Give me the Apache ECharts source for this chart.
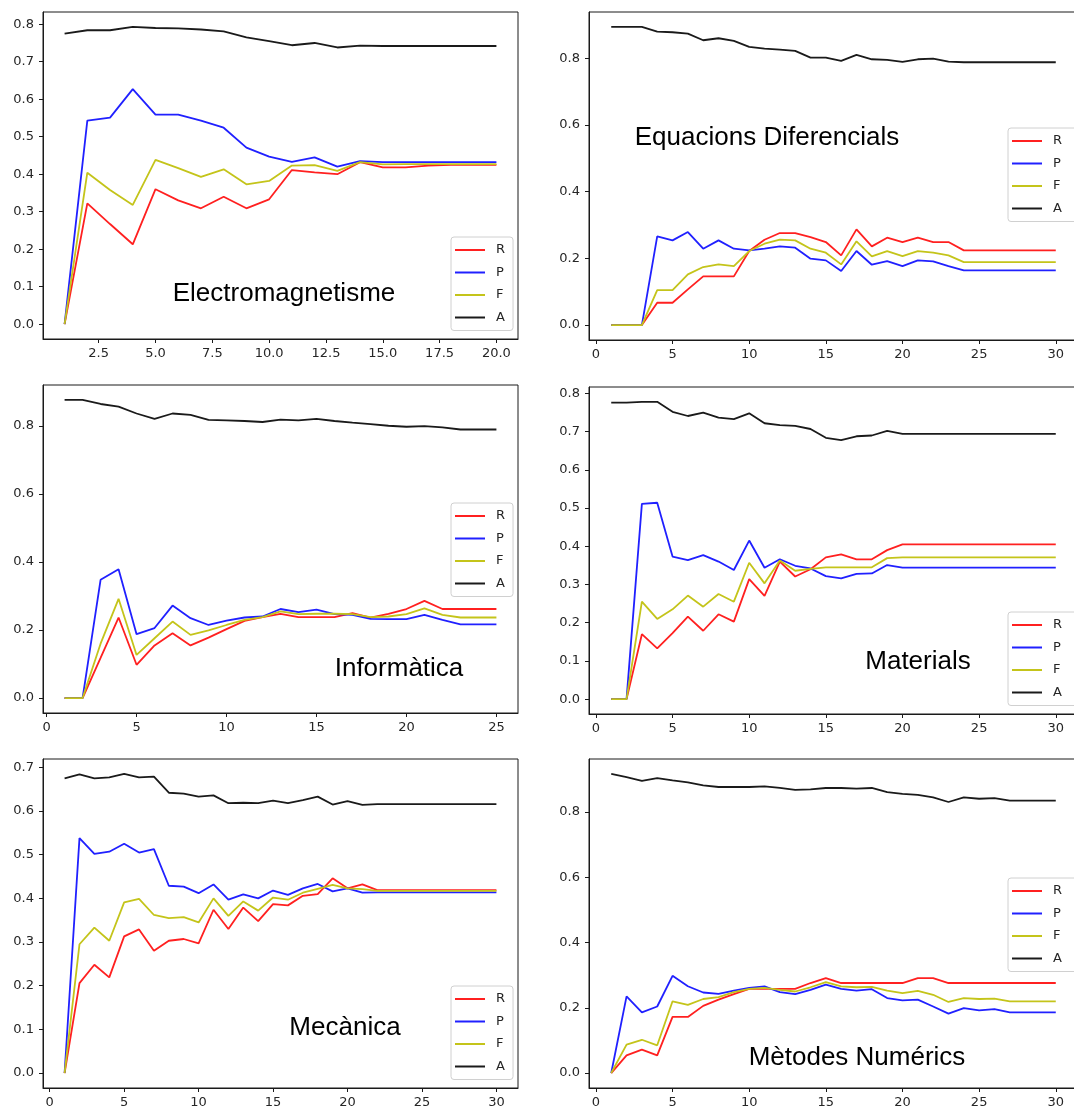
<!DOCTYPE html>
<html><head><meta charset="utf-8">
<script src="https://cdn.jsdelivr.net/npm/echarts@6/dist/echarts.min.js"></script>
<style>html,body{margin:0;padding:0;background:#fff}#c{width:1074px;height:1113px}</style>
</head><body><div id="c"></div><script>
const seriesNames = ['R', 'P', 'F', 'A'];
const seriesColors = ['#ff2020', '#2020ff', '#c4c41a', '#1a1a1a'];
const panelTitles = ['Electromagnetisme', 'Equacions Diferencials', 'Informàtica', 'Materials', 'Mecànica', 'Mètodes Numérics'];

// Tick labels
const yTicksTenth = [0, 0.1, 0.2, 0.3, 0.4, 0.5, 0.6, 0.7, 0.8];
const yTicksFifth = [0, 0.2, 0.4, 0.6, 0.8];
const yTicksMec = [0, 0.1, 0.2, 0.3, 0.4, 0.5, 0.6, 0.7];
const xTicksEm = [2.5, 5, 7.5, 10, 12.5, 15, 17.5, 20];
const xTicks25 = [0, 5, 10, 15, 20, 25];
const xTicks30 = [0, 5, 10, 15, 20, 25, 30];

// Electromagnetisme (x = 1..20)
const em_R = [0, 0.322, 0.267, 0.213, 0.360, 0.330, 0.309, 0.340, 0.309, 0.333, 0.411, 0.405, 0.400, 0.432, 0.418, 0.418, 0.423, 0.425, 0.425, 0.425];
const em_P = [0, 0.543, 0.551, 0.627, 0.559, 0.559, 0.543, 0.524, 0.471, 0.447, 0.433, 0.445, 0.420, 0.435, 0.432, 0.432, 0.432, 0.432, 0.432, 0.432];
const em_F = [0, 0.404, 0.358, 0.318, 0.438, 0.416, 0.393, 0.413, 0.373, 0.382, 0.423, 0.424, 0.409, 0.432, 0.426, 0.427, 0.427, 0.427, 0.427, 0.427];
const em_A = [0.775, 0.784, 0.784, 0.793, 0.790, 0.789, 0.786, 0.781, 0.765, 0.755, 0.744, 0.750, 0.738, 0.743, 0.742, 0.742, 0.742, 0.742, 0.742, 0.742];

// Equacions Diferencials (x = 1..30)
const ed_R = [0, 0, 0, 0.067, 0.067, 0.107, 0.146, 0.146, 0.146, 0.222, 0.256, 0.276, 0.276, 0.264, 0.249, 0.209, 0.287, 0.236, 0.262, 0.249, 0.262, 0.249, 0.249, 0.224, 0.224, 0.224, 0.224, 0.224, 0.224, 0.224];
const ed_P = [0, 0, 0, 0.266, 0.254, 0.279, 0.229, 0.254, 0.229, 0.224, 0.229, 0.236, 0.232, 0.199, 0.194, 0.162, 0.222, 0.181, 0.192, 0.177, 0.194, 0.191, 0.177, 0.164, 0.164, 0.164, 0.164, 0.164, 0.164, 0.164];
const ed_F = [0, 0, 0, 0.105, 0.105, 0.152, 0.174, 0.182, 0.177, 0.222, 0.244, 0.256, 0.254, 0.229, 0.217, 0.182, 0.251, 0.206, 0.222, 0.207, 0.222, 0.217, 0.209, 0.189, 0.189, 0.189, 0.189, 0.189, 0.189, 0.189];
const ed_A = [0.894, 0.894, 0.894, 0.880, 0.878, 0.874, 0.854, 0.860, 0.852, 0.834, 0.829, 0.826, 0.822, 0.802, 0.802, 0.792, 0.810, 0.797, 0.795, 0.789, 0.797, 0.799, 0.790, 0.788, 0.788, 0.788, 0.788, 0.788, 0.788, 0.788];

// Informàtica (x = 1..25)
const in_R = [0, 0, 0.118, 0.237, 0.098, 0.155, 0.191, 0.155, 0.178, 0.203, 0.227, 0.238, 0.248, 0.238, 0.238, 0.238, 0.250, 0.237, 0.248, 0.262, 0.286, 0.262, 0.262, 0.262, 0.262];
const in_P = [0, 0, 0.348, 0.379, 0.188, 0.206, 0.272, 0.235, 0.215, 0.228, 0.237, 0.240, 0.262, 0.253, 0.260, 0.247, 0.245, 0.233, 0.232, 0.232, 0.245, 0.230, 0.217, 0.217, 0.217];
const in_F = [0, 0, 0.160, 0.292, 0.127, 0.176, 0.225, 0.186, 0.199, 0.215, 0.230, 0.238, 0.255, 0.247, 0.248, 0.248, 0.247, 0.238, 0.240, 0.247, 0.264, 0.245, 0.237, 0.237, 0.237];
const in_A = [0.877, 0.877, 0.865, 0.857, 0.837, 0.821, 0.837, 0.833, 0.818, 0.817, 0.815, 0.812, 0.819, 0.817, 0.821, 0.815, 0.810, 0.806, 0.801, 0.798, 0.800, 0.796, 0.790, 0.790, 0.790];

// Materials (x = 1..30)
const ma_R = [0, 0, 0.170, 0.133, 0.173, 0.216, 0.179, 0.222, 0.203, 0.314, 0.270, 0.360, 0.321, 0.340, 0.371, 0.379, 0.366, 0.366, 0.390, 0.405, 0.405, 0.405, 0.405, 0.405, 0.405, 0.405, 0.405, 0.405, 0.405, 0.405];
const ma_P = [0, 0, 0.511, 0.514, 0.373, 0.364, 0.377, 0.360, 0.338, 0.415, 0.344, 0.366, 0.349, 0.342, 0.322, 0.316, 0.328, 0.329, 0.351, 0.344, 0.344, 0.344, 0.344, 0.344, 0.344, 0.344, 0.344, 0.344, 0.344, 0.344];
const ma_F = [0, 0, 0.255, 0.210, 0.235, 0.271, 0.242, 0.275, 0.255, 0.357, 0.303, 0.363, 0.336, 0.341, 0.345, 0.345, 0.345, 0.345, 0.369, 0.371, 0.371, 0.371, 0.371, 0.371, 0.371, 0.371, 0.371, 0.371, 0.371, 0.371];
const ma_A = [0.776, 0.776, 0.778, 0.778, 0.752, 0.741, 0.750, 0.737, 0.733, 0.748, 0.722, 0.717, 0.715, 0.707, 0.684, 0.678, 0.688, 0.690, 0.702, 0.694, 0.694, 0.694, 0.694, 0.694, 0.694, 0.694, 0.694, 0.694, 0.694, 0.694];

// Mecànica (x = 1..30)
const me_R = [0, 0.206, 0.248, 0.219, 0.313, 0.329, 0.280, 0.303, 0.307, 0.297, 0.374, 0.330, 0.379, 0.348, 0.387, 0.384, 0.406, 0.410, 0.446, 0.423, 0.432, 0.419, 0.419, 0.419, 0.419, 0.419, 0.419, 0.419, 0.419, 0.419];
const me_P = [0, 0.538, 0.502, 0.507, 0.525, 0.505, 0.513, 0.429, 0.427, 0.412, 0.432, 0.397, 0.409, 0.400, 0.418, 0.408, 0.423, 0.433, 0.416, 0.423, 0.413, 0.414, 0.414, 0.414, 0.414, 0.414, 0.414, 0.414, 0.414, 0.414];
const me_F = [0, 0.295, 0.333, 0.303, 0.391, 0.399, 0.362, 0.355, 0.357, 0.345, 0.400, 0.360, 0.393, 0.372, 0.402, 0.397, 0.413, 0.422, 0.431, 0.423, 0.421, 0.417, 0.417, 0.417, 0.417, 0.417, 0.417, 0.417, 0.417, 0.417];
const me_A = [0.675, 0.684, 0.675, 0.677, 0.685, 0.677, 0.679, 0.642, 0.640, 0.633, 0.636, 0.618, 0.619, 0.618, 0.624, 0.618, 0.625, 0.633, 0.615, 0.623, 0.614, 0.616, 0.616, 0.616, 0.616, 0.616, 0.616, 0.616, 0.616, 0.616];

// Mètodes Numérics (x = 1..30)
const mn_R = [0, 0.054, 0.072, 0.054, 0.172, 0.172, 0.206, 0.225, 0.242, 0.258, 0.258, 0.258, 0.258, 0.276, 0.291, 0.276, 0.276, 0.276, 0.276, 0.276, 0.291, 0.291, 0.276, 0.276, 0.276, 0.276, 0.276, 0.276, 0.276, 0.276];
const mn_P = [0, 0.235, 0.186, 0.204, 0.298, 0.266, 0.247, 0.243, 0.253, 0.261, 0.266, 0.248, 0.242, 0.255, 0.271, 0.258, 0.253, 0.257, 0.230, 0.223, 0.225, 0.204, 0.182, 0.199, 0.192, 0.196, 0.186, 0.186, 0.186, 0.186];
const mn_F = [0, 0.087, 0.102, 0.085, 0.220, 0.209, 0.227, 0.233, 0.248, 0.258, 0.261, 0.255, 0.250, 0.263, 0.279, 0.266, 0.263, 0.264, 0.253, 0.245, 0.252, 0.240, 0.218, 0.230, 0.227, 0.228, 0.220, 0.220, 0.220, 0.220];
const mn_A = [0.917, 0.907, 0.896, 0.904, 0.897, 0.891, 0.882, 0.877, 0.877, 0.877, 0.879, 0.874, 0.868, 0.870, 0.874, 0.874, 0.872, 0.874, 0.861, 0.856, 0.853, 0.845, 0.831, 0.845, 0.841, 0.843, 0.835, 0.835, 0.835, 0.835];

// layout (pixels) per panel
const panels = [
  { data: [em_R, em_P, em_F, em_A], yTicks: yTicksTenth, xTicks: xTicksEm, xDec: 1, grid: { left: 43, top: 12, width: 475, height: 327 }, legend: { left: 451, top: 237, padRight: 8 }, title: { x: 284, y: 294 } },
  { data: [ed_R, ed_P, ed_F, ed_A], yTicks: yTicksFifth, xTicks: xTicks30, xDec: 0, grid: { left: 589, top: 12, width: 489, height: 328 }, legend: { left: 1008, top: 128, padRight: 18 }, title: { x: 767, y: 138 } },
  { data: [in_R, in_P, in_F, in_A], yTicks: yTicksFifth, xTicks: xTicks25, xDec: 0, grid: { left: 43, top: 385, width: 475, height: 328 }, legend: { left: 451, top: 503, padRight: 8 }, title: { x: 399, y: 669 } },
  { data: [ma_R, ma_P, ma_F, ma_A], yTicks: yTicksTenth, xTicks: xTicks30, xDec: 0, grid: { left: 589, top: 387, width: 489, height: 327 }, legend: { left: 1008, top: 612, padRight: 18 }, title: { x: 918, y: 662 } },
  { data: [me_R, me_P, me_F, me_A], yTicks: yTicksMec, xTicks: xTicks30, xDec: 0, grid: { left: 43, top: 759, width: 475, height: 329 }, legend: { left: 451, top: 986, padRight: 8 }, title: { x: 345, y: 1028 } },
  { data: [mn_R, mn_P, mn_F, mn_A], yTicks: yTicksFifth, xTicks: xTicks30, xDec: 0, grid: { left: 589, top: 759, width: 489, height: 329 }, legend: { left: 1008, top: 878, padRight: 18 }, title: { x: 857, y: 1058 } }
];

const tickFont = { fontFamily: 'DejaVu Sans', fontSize: 13, color: '#262626' };
const grid = [], xAxis = [], yAxis = [], series = [], legend = [], graphic = [];

panels.forEach((p, i) => {
  const n = p.data[0].length;
  let lo = Infinity, hi = -Infinity;
  p.data.forEach(arr => arr.forEach(v => { lo = Math.min(lo, v); hi = Math.max(hi, v); }));
  const yr = hi - lo, xr = n - 1;
  grid.push(Object.assign({ show: true, borderColor: '#1a1a1a', borderWidth: 1, backgroundColor: '#fff', outerBoundsMode: 'none', containLabel: false }, p.grid));
  xAxis.push({
    type: 'value', gridIndex: i, min: 1 - 0.05 * xr, max: n + 0.05 * xr,
    axisLine: { show: true, onZero: false, lineStyle: { color: '#1a1a1a', width: 1 } },
    axisTick: { show: true, length: 4, customValues: p.xTicks, lineStyle: { color: '#1a1a1a' } },
    axisLabel: Object.assign({ margin: 8, customValues: p.xTicks, formatter: v => v.toFixed(p.xDec), showMinLabel: true, showMaxLabel: true, hideOverlap: false }, tickFont),
    splitLine: { show: false }
  });
  yAxis.push({
    type: 'value', gridIndex: i, min: lo - 0.05 * yr, max: hi + 0.05 * yr,
    axisLine: { show: true, onZero: false, lineStyle: { color: '#1a1a1a', width: 1 } },
    axisTick: { show: true, length: 4, customValues: p.yTicks, lineStyle: { color: '#1a1a1a' } },
    axisLabel: Object.assign({ margin: 9, customValues: p.yTicks, formatter: v => v.toFixed(1), showMinLabel: true, showMaxLabel: true }, tickFont),
    splitLine: { show: false }
  });
  p.data.forEach((arr, k) => {
    series.push({
      type: 'line', name: seriesNames[k], xAxisIndex: i, yAxisIndex: i,
      data: arr.map((v, j) => [j + 1, v]),
      showSymbol: false, symbol: 'none', silent: true,
      lineStyle: { color: seriesColors[k], width: 1.8 },
      itemStyle: { color: seriesColors[k] },
      z: 2
    });
  });
  legend.push({
    data: seriesNames, orient: 'vertical', left: p.legend.left, top: p.legend.top,
    icon: 'rect', itemWidth: 30, itemHeight: 2, itemGap: 8.5,
    padding: [6, p.legend.padRight, 6, 4], backgroundColor: 'rgba(255,255,255,0.85)',
    borderColor: '#d0d0d0', borderWidth: 1, borderRadius: 3,
    textStyle: { fontFamily: 'DejaVu Sans', fontSize: 13, color: '#262626', lineHeight: 14, padding: [0, 0, 0, 6] },
    selectedMode: false, z: 5
  });
  graphic.push({
    type: 'text', x: p.title.x, y: p.title.y, z: 10,
    style: { text: panelTitles[i], fontFamily: 'Liberation Sans', fontSize: 26, fill: '#000', textAlign: 'center', textVerticalAlign: 'middle' }
  });
});

const chart = echarts.init(document.getElementById('c'), null, { renderer: 'canvas' });
chart.setOption({ animation: false, backgroundColor: '#fff', grid, xAxis, yAxis, series, legend, graphic });
</script></body></html>
